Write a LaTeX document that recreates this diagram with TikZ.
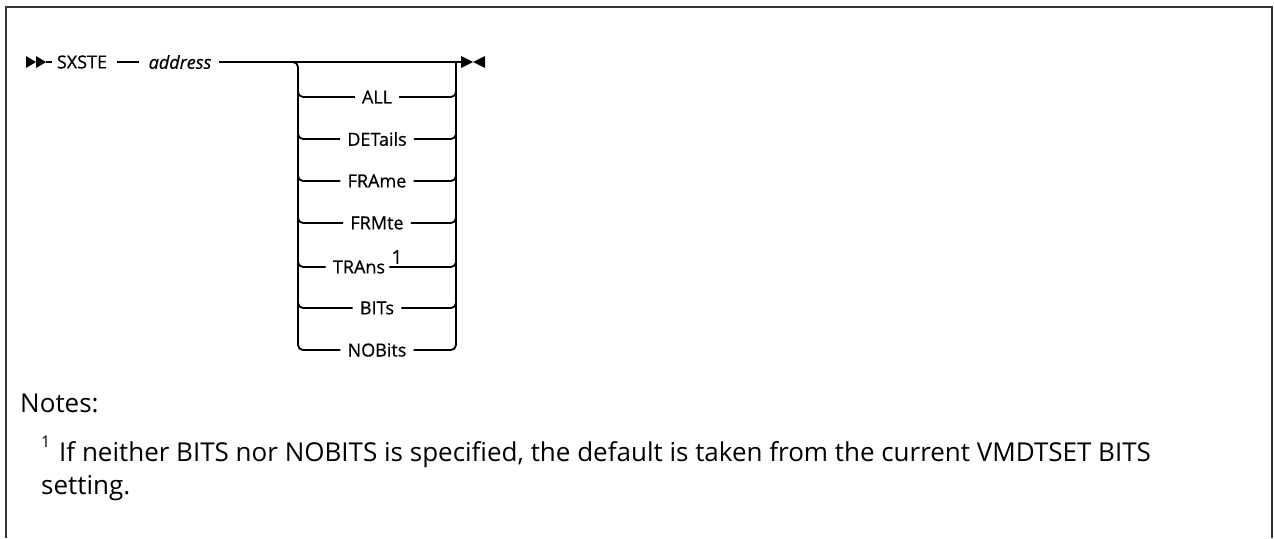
\documentclass[tikz,border=0pt]{standalone}
\usepackage{fontspec}
\setmainfont{Open Sans}
\newfontfamily\railfont[FakeBold=0.6]{Open Sans}
\usetikzlibrary{calc}
\begin{document}
\begin{tikzpicture}[x=1pt,y=-1pt,
  rail/.style={line width=1.8pt, line cap=butt},
  joint/.style={rail, rounded corners=5pt},
  lblfont/.style={font=\railfont\fontsize{18}{20}\selectfont},
  lbl/.style={lblfont, inner xsep=7pt, inner ysep=0pt, anchor=center},
  kw/.style={lblfont, inner sep=0pt, anchor=center},
  sup/.style={lblfont, inner sep=0pt},
  note/.style={font=\fontsize{26}{30}\selectfont, inner sep=0pt, anchor=base west},
  frame/.style={line width=2pt, black!80}]
\useasboundingbox (0,0) rectangle (1274,538);
\fill[white] (0,0) rectangle (1274,538);
% frame
\draw[frame] (6,538) -- (6,7) -- (1272,7) -- (1272,538);

% start marker
\coordinate (s1) at (46,62);
\fill (26,56) -- (36,62) -- (26,68) -- cycle;
\fill (36,56) -- (46,62) -- (36,68) -- cycle;

% main line nodes
\node[kw] (sx) at (82,62) {SXSTE};
\node[kw, font=\railfont\fontsize{18}{20}\selectfont\itshape] (ad) at (180,62) {address};
\coordinate (bl) at (298,62);
\coordinate (br) at (456,62);
\coordinate (e0) at (461,62);

\draw[rail] (s1) -- ($(sx.west)+(-5,0)$);
\draw[rail] ($(sx.east)+(10,0)$) -- ($(ad.west)+(-10,0)$);
\draw[rail] ($(ad.east)+(8,0)$) -- (bl) -- (br) -- (e0);

% end marker
\fill (461,56) -- (473,62) -- (461,68) -- cycle;
\fill (485,56) -- (473,62) -- (485,68) -- cycle;

% option rows
\node[lbl] (o1) at (377,97) {ALL};
\node[lbl] (o2) at (377,139) {DETails};
\node[lbl] (o3) at (377,181) {FRAme};
\node[lbl] (o4) at (377,223) {FRMte};
\node[lbl] (o5) at (359,267) {TRAns};
\node[sup, anchor=south west, font=\railfont\fontsize{19}{20}\selectfont] (o5s) at ($(o5.east)+(-1,-3)$) {1};
\node[lbl] (o6) at (377,308) {BITs};
\node[lbl] (o7) at (377,350) {NOBits};

% rails
\draw[joint] ($(ad.east)+(8,0)$) -- (bl) -- (298,350) -- (o7.west);
\draw[joint] (br) -- (456,350) -- (o7.east);
\foreach \n/\y in {o1/97,o2/139,o3/181,o4/223,o5/267,o6/308}{
  \draw[joint] (298,\y-12) -- (298,\y) -- (\n.west);
}
\foreach \n/\y in {o1/97,o2/139,o3/181,o4/223,o6/308}{
  \draw[joint] (\n.east) -- (456,\y) -- (456,\y-12);
}
\draw[joint] ($(o5.east)+(-3,0)$) -- (456,267) -- (456,255);

% notes
\node[note] (nt) at (20,412) {Notes:};
\node[note, font=\fontsize{16}{18}\selectfont] (fn) at (41,447) {1};
\node[note] (f1) at (59,461) {If neither BITS nor NOBITS is specified, the default is taken from the current VMDTSET BITS};
\node[note] (f2) at (41,494) {setting.};
\end{tikzpicture}
\end{document}
